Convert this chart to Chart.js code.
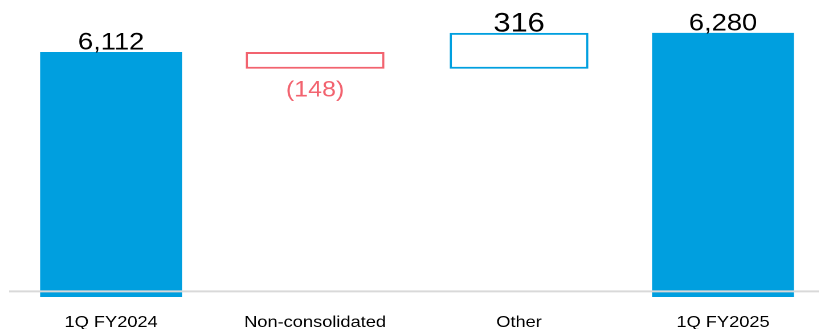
<!DOCTYPE html>
<html>
<head>
<meta charset="utf-8">
<script src="https://cdn.jsdelivr.net/npm/chart.js@4/dist/chart.umd.min.js"></script>
<style>
  html, body { margin: 0; padding: 0; background: #ffffff; overflow: hidden; }
  #wrap { width: 819px; height: 329px; overflow: hidden; position: relative; }
  #chart { display: block; }
</style>
</head>
<body>
<div id="wrap"><canvas id="chart"></canvas></div>
<script>
// Operating bridge: 1Q FY2024 -> 1Q FY2025
const categories = ['1Q FY2024', 'Non-consolidated', 'Other', '1Q FY2025'];
const startValue = 6112;
const changeValues = [-148, 316];
const endValue = 6280;

const BLUE = '#009fdf';
const RED = '#f2636f';
const AXIS_FLOOR = 4000;   // value where the baseline rule sits
const STRETCH = 1.14;      // horizontal stretch of the drawing
const LOGICAL_W = 724, H = 329;

// Floating segments for the change bars, stacked from the running total
const changeBars = [null];
let running = startValue;
changeValues.forEach(v => { changeBars.push([running, running + v]); running += v; });
changeBars.push(null);

const totalBars = [startValue, null, null, endValue];
const changeColors = [null, ...changeValues.map(v => v < 0 ? RED : BLUE), null];

const fmt = v => Math.abs(v).toLocaleString('en-US');

const canvas = document.getElementById('chart');
canvas.width = LOGICAL_W;
canvas.height = H;
canvas.style.width = (LOGICAL_W * STRETCH) + 'px';
canvas.style.height = H + 'px';

const baseRule = {
  id: 'baseRule',
  afterDatasetsDraw(chart) {
    const { ctx, chartArea, scales } = chart;
    const y = scales.y.getPixelForValue(AXIS_FLOOR);
    ctx.save();
    ctx.strokeStyle = '#d9d9d9';
    ctx.lineWidth = 2;
    ctx.beginPath();
    ctx.moveTo(chartArea.left, y);
    ctx.lineTo(chart.width, y);
    ctx.stroke();
    ctx.restore();
  }
};

const valueLabels = {
  id: 'valueLabels',
  afterDraw(chart) {
    const { ctx } = chart;
    ctx.save();
    ctx.textAlign = 'center';
    ctx.textBaseline = 'alphabetic';
    // totals
    chart.getDatasetMeta(0).data.forEach((el, i) => {
      const v = totalBars[i];
      if (v == null) return;
      ctx.font = '24px "Liberation Sans", Arial, sans-serif';
      ctx.fillStyle = '#000000';
      ctx.fillText(fmt(v), el.x, Math.min(el.y, el.base) - 2.5);
    });
    // changes
    chart.getDatasetMeta(1).data.forEach((el, i) => {
      const seg = changeBars[i];
      if (seg == null) return;
      const v = seg[1] - seg[0];
      const top = Math.min(el.y, el.base);
      const bottom = Math.max(el.y, el.base);
      if (v < 0) {
        ctx.font = '22px "Liberation Sans", Arial, sans-serif';
        ctx.fillStyle = RED;
        ctx.fillText('(' + fmt(v) + ')', el.x, bottom + 28);
      } else {
        ctx.font = '27px "Liberation Sans", Arial, sans-serif';
        ctx.fillStyle = '#000000';
        ctx.fillText(fmt(v), el.x, top - 1.5);
      }
    });
    ctx.restore();
  }
};

new Chart(canvas, {
  type: 'bar',
  data: {
    labels: categories,
    datasets: [
      {
        label: 'Total',
        data: totalBars,
        backgroundColor: BLUE,
        borderWidth: 0,
        barPercentage: 0.696,
        categoryPercentage: 1
      },
      {
        label: 'Change',
        data: changeBars,
        backgroundColor: '#ffffff',
        borderColor: changeColors,
        borderWidth: 2,
        borderSkipped: false,
        barPercentage: 0.68,
        categoryPercentage: 1
      }
    ]
  },
  options: {
    responsive: false,
    animation: false,
    devicePixelRatio: 2,
    grouped: false,
    layout: { padding: { left: 8, right: 0, top: 8, bottom: 0 } },
    plugins: {
      legend: { display: false },
      tooltip: { enabled: false }
    },
    scales: {
      x: {
        grid: { display: false, drawTicks: false },
        border: { display: false },
        ticks: {
          color: '#000000',
          padding: 16,
          maxRotation: 0,
          autoSkip: false,
          font: { family: '"Liberation Sans", Arial, sans-serif', size: 16 }
        },
        afterFit(scale) { scale.height = 32; }
      },
      y: {
        display: false,
        min: 3950,
        max: 6500
      }
    }
  },
  plugins: [baseRule, valueLabels]
});
</script>
</body>
</html>
